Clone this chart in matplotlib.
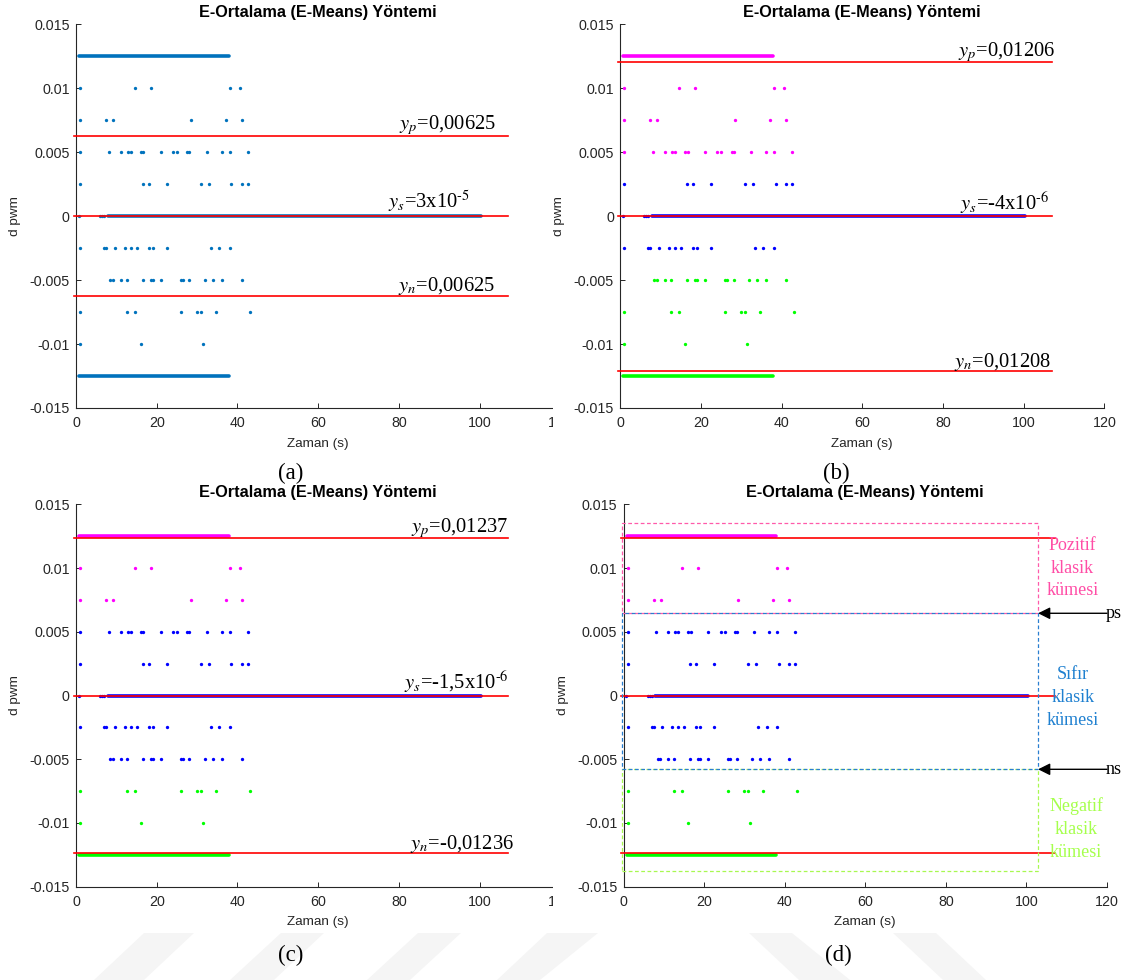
import matplotlib
matplotlib.use("Agg")
import matplotlib.pyplot as plt
from matplotlib.patches import Rectangle, Polygon
from matplotlib.transforms import Bbox, TransformedBbox

plt.rcParams["mathtext.fontset"] = "stix"
plt.rcParams["font.family"] = ["Liberation Sans", "DejaVu Sans"]

# ------------------------------------------------------------------ data
x_ticks = [0, 20, 40, 60, 80, 100, 120]
y_ticks = [0.015, 0.01, 0.005, 0, -0.005, -0.01, -0.015]
y_tick_labels = ["0.015", "0.01", "0.005", "0", "-0.005", "-0.01", "-0.015"]

# d pwm levels and the times (s) at which isolated samples occur
levels = [0.01, 0.0075, 0.005, 0.0025, 0.0, -0.0025, -0.005, -0.0075, -0.01]
t_p100 = [1.05, 14.5, 18.6, 38.1, 40.5]
t_p075 = [1.05, 7.5, 9.2, 28.5, 37.1, 41.0]
t_p050 = [1.05, 8.1, 11.1, 12.9, 13.6, 16.1, 16.7, 21.0, 24.1, 25.1, 27.6,
          28.1, 32.5, 36.1, 38.1, 42.6]
t_p025 = [1.05, 16.5, 18.1, 22.5, 31.0, 33.0, 38.5, 41.0, 42.6]
t_zero = [0.6, 6.0, 6.5, 7.0]
t_m025 = [1.05, 7.0, 7.5, 9.6, 12.0, 13.5, 15.0, 18.1, 19.0, 22.5, 33.5,
          35.5, 38.1]
t_m050 = [8.5, 9.1, 11.1, 12.5, 16.5, 18.6, 19.1, 21.0, 26.0, 26.5, 28.1,
          32.0, 34.0, 36.1, 41.0]
t_m075 = [1.05, 12.5, 14.5, 26.0, 30.0, 31.0, 34.6, 43.1]
t_m100 = [1.05, 16.1, 31.5]
sparse_times = [t_p100, t_p075, t_p050, t_p025, t_zero,
                t_m025, t_m050, t_m075, t_m100]

# densely sampled runs (start / end time) at a constant level
band_levels = [0.0125, 0.0, -0.0125]
band_start = [0.8, 7.8, 0.8]
band_end = [37.9, 100.3, 37.9]

# cluster centres (y_p, y_s, y_n) of each run
centres_a = [0.00625, 3e-5, -0.00625]
centres_b = [0.01206, -4e-6, -0.01208]
centres_c = [0.01237, -1.5e-6, -0.01236]
centres_d = [0.01237, -1.5e-6, -0.01236]

texts_a = [r"$y_p$=0,00625", r"$y_s$=3x10$^{\text{-}5}$", r"$y_n$=0,00625"]
texts_b = [r"$y_p$=0,01206", r"$y_s$=-4x10$^{\text{-}6}$", r"$y_n$=0,01208"]
texts_c = [r"$y_p$=0,01237", r"$y_s$=-1,5x10$^{\text{-}6}$",
           r"$y_n$=-0,01236"]

# level limits from which samples belong to the positive / negative cluster
limits_b = (0.005, -0.005)
limits_cd = (0.0075, -0.0075)

# class boundaries in panel (d)
box_top, ps_level, ns_level, box_bottom = 0.01356, 0.00645, -0.00579, -0.01377
box_left, box_right = -0.45, 102.9
class_names = ["Pozitif\nklasik\nkümesi", "Sıfır\nklasik\nkümesi",
               "Negatif\nklasik\nkümesi"]

# ------------------------------------------------------------------ figure
W, H = 1129, 980
fig = plt.figure(figsize=(W / 100, H / 100), dpi=100)
fig.patch.set_facecolor("white")

def px_axes(l, t, r, b, z=0):
    ax = fig.add_axes([l / W, 1 - b / H, (r - l) / W, (b - t) / H], zorder=z)
    ax.patch.set_visible(False)
    return ax

ax_a = px_axes(76.1, 24.3, 560.3, 408.0)
ax_b = px_axes(620.2, 24.3, 1104.4, 408.0, z=2)
ax_c = px_axes(76.1, 504.3, 560.3, 886.7)
ax_d = px_axes(623.5, 504.3, 1107.0, 886.7, z=2)

AX_COL = "#262626"
MAG, BLU, GRN, RED = "#ff00ff", "#0000ff", "#00ff00", "#ff0000"
MATLAB_BLUE = "#0072BD"


def style(ax):
    ax.set_xlim(0, 120)
    ax.set_ylim(-0.015, 0.015)
    for s in ("top", "right"):
        ax.spines[s].set_visible(False)
    for s in ("left", "bottom"):
        ax.spines[s].set_color(AX_COL)
        ax.spines[s].set_linewidth(0.8)
    ax.set_xticks(x_ticks)
    ax.set_xticklabels([str(v) for v in x_ticks])
    ax.set_yticks(y_ticks)
    ax.set_yticklabels(y_tick_labels)
    ax.tick_params(direction="in", length=3.6, width=0.7, colors=AX_COL,
                   labelsize=10.3)
    ax.tick_params(axis="x", pad=6)
    ax.tick_params(axis="y", pad=4.5)
    ax.set_title("E-Ortalama (E-Means) Yöntemi", fontsize=11.7,
                 fontweight="bold", pad=5)
    ax.set_xlabel("Zaman (s)", fontsize=9.7, color=AX_COL)
    ax.xaxis.set_label_coords(0.5, -0.077)
    ax.set_ylabel("d pwm", fontsize=9.7, color=AX_COL)
    ax.yaxis.set_label_coords(-0.113, 0.5)


def colour_for(level, limits):
    if limits is None:
        return MATLAB_BLUE
    hi, lo = limits
    if level >= hi:
        return MAG
    if level <= lo:
        return GRN
    return BLU


def draw_samples(ax, limits):
    for lvl, s, e in zip(band_levels, band_start, band_end):
        ax.plot([s, e], [lvl, lvl], lw=2.6, color=colour_for(lvl, limits),
                solid_capstyle="round", zorder=2)
    for lvl, ts in zip(levels, sparse_times):
        ax.plot(ts, [lvl] * len(ts), ls="none", marker="o", ms=2.4,
                mec="none", color=colour_for(lvl, limits), zorder=2)


def draw_centres(ax, centres):
    for c in centres:
        ax.plot([-0.5, 107.1], [c, c], color=RED, lw=1.2, zorder=3,
                clip_on=False)


def draw_texts(ax, centres, texts, xs, offs):
    for c, t, x, o in zip(centres, texts, xs, offs):
        ax.annotate(t, xy=(x, c), xytext=(0, o * 0.72),
                    textcoords="offset points", ha="right", va="baseline",
                    fontsize=14.8, family="Liberation Serif",
                    annotation_clip=False, zorder=4)


for ax in (ax_a, ax_b, ax_c, ax_d):
    style(ax)

draw_samples(ax_a, None)
draw_samples(ax_b, limits_b)
draw_samples(ax_c, limits_cd)
draw_samples(ax_d, limits_cd)

draw_centres(ax_a, centres_a)
draw_centres(ax_b, centres_b)
draw_centres(ax_c, centres_c)
draw_centres(ax_d, centres_d)

draw_texts(ax_a, centres_a, texts_a, [104.0, 97.6, 103.9], [6.7, 8.0, 5.0])
draw_texts(ax_b, centres_b, texts_b, [107.8, 106.3, 106.7], [5.3, 6.7, 4.0])
draw_texts(ax_c, centres_c, texts_c, [107.0, 107.3, 108.6], [5.6, 6.7, 4.4])

# class regions in panel (d)
PINK, SKY, LIME = "#ff5aaa", "#2a7fd0", "#a8f850"
dash = (0, (3, 2))
for top, bot, col in ((box_top, ps_level, PINK), (ns_level, box_bottom, LIME),
                      (ps_level, ns_level, SKY)):
    ax_d.add_patch(Rectangle((box_left, bot), box_right - box_left, top - bot,
                             fill=False, ec=col, lw=0.9, ls=dash,
                             clip_on=False, zorder=4))

for lvl, name in ((ps_level, "ps"), (ns_level, "ns")):
    ax_d.annotate("", xy=(box_right, lvl), xytext=(120.0, lvl),
                  arrowprops=dict(arrowstyle="-|>", color="k", lw=1.0,
                                  mutation_scale=18, shrinkA=0, shrinkB=0),
                  annotation_clip=False, zorder=5)
    ax_d.text(119.6, lvl, name, ha="left", va="center", fontsize=13,
              family="Liberation Serif", clip_on=False, zorder=5)

ax_d.text(111.4, 0.0100, class_names[0], ha="center", va="center",
          color="#ff4da6", fontsize=13, family="Liberation Serif",
          linespacing=1.45, zorder=5)
ax_d.text(111.6, -0.00013, class_names[1], ha="center", va="center",
          color="#1f80d0", fontsize=13, family="Liberation Serif",
          linespacing=1.45, zorder=5)
ax_d.text(112.3, -0.0105, class_names[2], ha="center", va="center",
          color="#a6ff4d", fontsize=13, family="Liberation Serif",
          linespacing=1.45, zorder=5)

# right-hand panels sit on top of the left ones
for y0, y1 in ((395, 445), (875, 925)):
    fig.add_artist(Rectangle((553 / W, 1 - y1 / H), 60 / W, (y1 - y0) / H,
                             transform=fig.transFigure, fc="white",
                             ec="none", zorder=1))
clip = TransformedBbox(Bbox([[553 / W, 0], [1, 1]]), fig.transFigure)
for ax in (ax_b, ax_d):
    ax.yaxis.label.set_clip_on(True)
    ax.yaxis.label.set_clip_box(clip)

# faint background stripes at the bottom of the page
for bl, br, tl, tr in ((94, 144, 144, 194), (230, 274, 281, 324),
                       (367, 410, 418, 461), (497, 540, 547, 598),
                       (799, 850, 749, 792), (943, 986, 893, 936)):
    pts = [(bl / W, 0), (br / W, 0), (tr / W, 1 - 933 / H),
           (tl / W, 1 - 933 / H)]
    fig.add_artist(Polygon(pts, closed=True, transform=fig.transFigure,
                           fc="#f5f5f5", ec="none", zorder=-1))

# panel captions
for x, y, s in ((291, 473, "(a)"), (836, 473, "(b)"),
                (291, 955, "(c)"), (838, 955, "(d)")):
    fig.text(x / W, 1 - y / H, s, ha="center", va="center", fontsize=16.5,
             family="Liberation Serif", zorder=6)

fig.savefig("out.png", dpi=100)
